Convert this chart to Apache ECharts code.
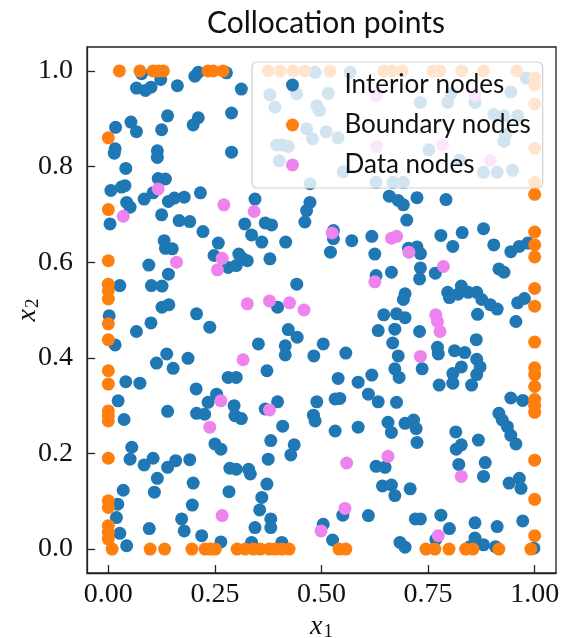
<!DOCTYPE html>
<html>
<head>
<meta charset="utf-8">
<script src="https://cdn.jsdelivr.net/npm/echarts@6/dist/echarts.min.js"></script>
<style>
  html, body { margin: 0; padding: 0; background: #fff; }
  #chart { width: 566px; height: 638px; }
</style>
</head>
<body>
<div id="chart"></div>
<script>
// Interior collocation nodes [x1, x2]
const interiorNodes = [
  [0.078,0.994],[0.066,0.964],[0.087,0.959],[0.100,0.966],[0.123,0.982],[0.162,0.969],[0.203,0.989],[0.211,0.997],
  [0.277,0.996],[0.312,0.962],[0.139,0.906],[0.211,0.902],[0.199,0.887],[0.289,0.912],[0.017,0.882],[0.053,0.893],
  [0.066,0.873],[0.125,0.877],[0.016,0.837],[0.014,0.828],[0.115,0.833],[0.115,0.819],[0.289,0.830],[0.041,0.796],
  [0.117,0.775],[0.134,0.774],[0.006,0.750],[0.031,0.757],[0.039,0.760],[0.084,0.732],[0.105,0.745],[0.141,0.727],
  [0.155,0.734],[0.178,0.736],[0.216,0.745],[0.043,0.725],[0.051,0.715],[0.125,0.699],
  [0.485,0.997],[0.567,0.997],[0.442,0.952],[0.379,0.950],[0.391,0.924],[0.489,0.927],[0.495,0.917],[0.516,0.953],
  [0.465,0.879],[0.479,0.858],[0.511,0.873],[0.539,0.860],[0.395,0.845],[0.407,0.845],[0.422,0.842],[0.401,0.812],
  [0.551,0.789],[0.473,0.764],[0.628,0.767],[0.668,0.767],
  [0.980,0.985],[0.944,0.956],[0.732,0.934],[0.796,0.934],[0.804,0.953],[0.860,0.934],[0.904,0.909],[0.928,0.906],
  [0.960,0.906],[0.928,0.853],[0.932,0.867],[0.752,0.835],[0.824,0.813],[0.912,0.788],[0.948,0.792],[0.692,0.767],
  [0.880,0.788],
  [0.344,0.732],[0.473,0.725],[0.465,0.708],[0.659,0.738],[0.680,0.729],[0.692,0.720],[0.724,0.735],[0.792,0.731],
  [0.700,0.688],
  [0.004,0.680],[0.166,0.687],[0.191,0.685],[0.222,0.664],[0.320,0.680],[0.131,0.645],[0.134,0.629],[0.150,0.628],
  [0.258,0.640],[0.248,0.614],[0.306,0.617],[0.316,0.607],[0.281,0.589],[0.300,0.593],[0.095,0.594],[0.141,0.575],
  [0.027,0.551],[0.101,0.551],[0.126,0.550],[0.126,0.506],[0.142,0.511],[0.002,0.488],[0.016,0.427],[0.100,0.473],
  [0.066,0.455],[0.207,0.492],[0.238,0.464],[0.137,0.408],[0.113,0.389],[0.152,0.378],[0.187,0.399],[0.041,0.350],
  [0.074,0.347],[0.281,0.359],[0.300,0.359],
  [0.368,0.682],[0.383,0.678],[0.336,0.657],[0.360,0.642],[0.416,0.642],[0.326,0.603],[0.379,0.607],[0.461,0.684],
  [0.528,0.666],[0.528,0.649],[0.571,0.645],[0.521,0.621],[0.618,0.654],[0.625,0.617],[0.628,0.572],[0.664,0.579],
  [0.442,0.554],[0.397,0.506],[0.422,0.459],[0.443,0.443],[0.352,0.429],[0.415,0.425],[0.415,0.406],[0.482,0.404],
  [0.504,0.429],[0.557,0.410],[0.372,0.373],[0.539,0.357],[0.586,0.349],[0.618,0.364],[0.646,0.490],[0.676,0.492],
  [0.633,0.457],[0.672,0.460],[0.667,0.431],[0.680,0.404],[0.672,0.377],[0.682,0.359],
  [0.704,0.629],[0.724,0.632],[0.732,0.618],[0.780,0.656],[0.830,0.662],[0.880,0.670],[0.808,0.633],[0.904,0.636],
  [0.944,0.622],[0.964,0.633],[0.984,0.640],[0.732,0.588],[0.730,0.565],[0.767,0.577],[0.916,0.586],[0.928,0.579],
  [0.696,0.534],[0.692,0.522],[0.796,0.537],[0.800,0.526],[0.828,0.550],[0.820,0.533],[0.844,0.537],[0.864,0.537],
  [0.876,0.522],[0.896,0.511],[0.912,0.502],[0.960,0.515],[0.976,0.524],[0.866,0.491],[0.956,0.476],[0.696,0.484],
  [0.730,0.455],[0.863,0.438],[0.772,0.422],[0.774,0.408],[0.812,0.415],[0.836,0.411],[0.736,0.377],[0.828,0.381],
  [0.808,0.367],[0.864,0.397],[0.872,0.381],[0.864,0.365],[0.776,0.343],[0.808,0.347],[0.852,0.343],
  [0.023,0.310],[0.037,0.271],[0.139,0.288],[0.206,0.335],[0.234,0.307],[0.254,0.324],[0.207,0.284],[0.226,0.282],
  [0.295,0.300],[0.297,0.279],[0.312,0.273],[0.250,0.220],[0.264,0.209],[0.055,0.213],[0.051,0.188],[0.084,0.176],
  [0.105,0.190],[0.139,0.171],[0.158,0.185],[0.191,0.187],[0.285,0.169],[0.300,0.167],[0.115,0.148],[0.199,0.138],
  [0.035,0.123],[0.108,0.119],[0.283,0.120],[0.197,0.092],[0.022,0.094],[0.019,0.066],[0.172,0.063],[0.178,0.038],
  [0.096,0.043],[0.027,0.033],[0.219,0.028],[0.264,0.015],[0.043,0.007],
  [0.368,0.293],[0.397,0.308],[0.409,0.257],[0.381,0.227],[0.436,0.218],[0.428,0.197],[0.375,0.188],[0.329,0.167],
  [0.333,0.157],[0.372,0.136],[0.360,0.108],[0.355,0.082],[0.381,0.063],[0.381,0.045],[0.344,0.045],[0.336,0.014],
  [0.407,0.014],[0.489,0.308],[0.532,0.314],[0.543,0.315],[0.481,0.280],[0.485,0.268],[0.532,0.247],[0.586,0.255],
  [0.610,0.324],[0.633,0.308],[0.676,0.307],[0.656,0.265],[0.664,0.244],[0.628,0.173],[0.649,0.171],[0.643,0.132],
  [0.664,0.134],[0.672,0.112],[0.550,0.071],[0.610,0.070],[0.504,0.052],[0.526,0.019],[0.684,0.014],
  [0.944,0.316],[0.972,0.311],[0.696,0.263],[0.716,0.270],[0.722,0.252],[0.724,0.223],[0.815,0.245],[0.816,0.209],
  [0.828,0.218],[0.868,0.228],[0.916,0.284],[0.924,0.270],[0.936,0.256],[0.944,0.238],[0.956,0.220],[0.822,0.177],
  [0.884,0.181],[0.880,0.152],[0.708,0.126],[0.940,0.138],[0.964,0.148],[0.968,0.127],[0.720,0.063],[0.732,0.063],
  [0.780,0.071],[0.800,0.043],[0.768,0.020],[0.860,0.055],[0.860,0.023],[0.880,0.009],[0.912,0.047],[0.908,0.005],
  [0.972,0.059],[0.998,0.002],[0.696,0.004],[0.848,0.005]
];

// Boundary nodes, listed edge by edge
const leftEdgeY = [0.860,0.710,0.603,0.554,0.540,0.523,0.471,0.438,0.373,0.345,0.289,0.279,0.268,0.190,0.101,0.087,0.049,0.035,0.021];
const rightEdgeY = [0.985,0.971,0.931,0.838,0.767,0.742,0.663,0.636,0.611,0.545,0.508,0.433,0.379,0.365,0.340,0.313,0.299,0.286,0.186,0.104,0.028];
const topEdgeX = [0.026,0.074,0.105,0.117,0.129,0.234,0.246,0.269,0.375,0.403,0.433,0.461,0.520,0.646,0.665,0.689,0.761,0.778,0.829,0.880,0.958];
const bottomEdgeX = [0.009,0.098,0.132,0.196,0.227,0.239,0.251,0.302,0.321,0.340,0.356,0.377,0.391,0.407,0.424,0.541,0.557,0.745,0.766,0.799,0.838,0.855,0.916,0.991];

// Nodes carrying observed data [x1, x2]
const dataNodes = [
  [0.117,0.753],[0.271,0.720],[0.035,0.696],[0.342,0.706],[0.267,0.608],[0.256,0.584],[0.160,0.600],[0.326,0.513],
  [0.316,0.396],[0.525,0.661],[0.664,0.650],[0.676,0.654],[0.625,0.559],[0.378,0.519],[0.425,0.515],[0.459,0.500],
  [0.705,0.621],[0.786,0.591],[0.768,0.490],[0.772,0.476],[0.778,0.455],[0.732,0.403],[0.264,0.310],[0.238,0.255],
  [0.267,0.070],[0.378,0.291],[0.656,0.194],[0.559,0.180],[0.555,0.085],[0.499,0.038],[0.828,0.152],[0.774,0.028],
  [0.629,0.948],[0.629,0.842],[0.860,0.949],[0.784,0.845],[0.896,0.813]
];

const xTicks = [0, 0.25, 0.5, 0.75, 1];
const yTicks = [0, 0.2, 0.4, 0.6, 0.8, 1];

const boundaryNodes = []
  .concat(leftEdgeY.map(y => [0, y]))
  .concat(rightEdgeY.map(y => [1, y]))
  .concat(topEdgeX.map(x => [x, 1]))
  .concat(bottomEdgeX.map(x => [x, 0]));

const serif = '"Liberation Serif", "DejaVu Serif", serif';
const sans = 'Lato, "Open Sans", sans-serif';
const ink = '#111';

const chart = echarts.init(document.getElementById('chart'), null, { renderer: 'canvas' });

const axisNameRich = {
  i: { fontFamily: serif, fontStyle: 'italic', fontSize: 28, color: ink },
  s: { fontFamily: serif, fontSize: 19, color: ink, verticalAlign: 'bottom', padding: [12, 0, 0, 1] }
};

chart.setOption({
  animation: false,
  backgroundColor: '#fff',
  title: {
    text: 'Collocation points',
    left: 321,
    top: 3,
    textAlign: 'center',
    textStyle: { fontFamily: sans, fontSize: 30, fontWeight: 'normal', color: ink }
  },
  grid: {
    left: 87, top: 47, width: 469, height: 526,
    outerBoundsMode: 'none', containLabel: false,
    show: true, borderColor: '#222', borderWidth: 1.3, backgroundColor: 'transparent'
  },
  xAxis: {
    type: 'value', min: -0.05, max: 1.05,
    splitLine: { show: false },
    axisLine: { show: true, onZero: false, lineStyle: { color: '#222', width: 1.3 } },
    axisTick: { show: true, inside: true, length: 8, customValues: xTicks, lineStyle: { color: '#222', width: 1.3 } },
    axisLabel: {
      customValues: xTicks, margin: 8,
      formatter: v => v.toFixed(2),
      fontFamily: serif, fontSize: 28, color: ink
    },
    name: '{i|x}{s|1}', nameLocation: 'middle', nameGap: 38, nameMoveOverlap: false,
    nameTextStyle: { rich: axisNameRich }
  },
  yAxis: {
    type: 'value', min: -0.05, max: 1.05,
    splitLine: { show: false },
    axisLine: { show: true, onZero: false, lineStyle: { color: '#222', width: 1.3 } },
    axisTick: { show: true, inside: true, length: 8, customValues: yTicks, lineStyle: { color: '#222', width: 1.3 } },
    axisLabel: {
      customValues: yTicks, margin: 14,
      formatter: v => v.toFixed(1),
      fontFamily: serif, fontSize: 28, color: ink
    },
    name: '{i|x}{s|2}', nameLocation: 'middle', nameGap: 44, nameRotate: 90, nameMoveOverlap: false,
    nameTextStyle: { rich: axisNameRich }
  },
  legend: {
    orient: 'vertical',
    left: 252, top: 62,
    padding: [9, 12, 9, 34],
    itemWidth: 26, itemHeight: 13, itemGap: 12,
    icon: 'circle',
    backgroundColor: 'rgba(255,255,255,0.8)',
    borderColor: '#d0d0d0', borderWidth: 1.2, borderRadius: 5,
    z: 6,
    textStyle: { fontFamily: sans, fontSize: 26, color: ink, lineHeight: 28, padding: [0, 0, 0, 34] },
    data: ['Interior nodes', 'Boundary nodes', 'Data nodes']
  },
  series: [
    { name: 'Interior nodes', type: 'scatter', data: interiorNodes, symbolSize: 13,
      itemStyle: { color: '#1f77b4', opacity: 1 }, z: 2 },
    { name: 'Boundary nodes', type: 'scatter', data: boundaryNodes, symbolSize: 13,
      itemStyle: { color: '#ff7f0e', opacity: 1 }, z: 3 },
    { name: 'Data nodes', type: 'scatter', data: dataNodes, symbolSize: 13,
      itemStyle: { color: '#ee82ee', opacity: 1 }, z: 4 }
  ]
});
</script>
</body>
</html>
